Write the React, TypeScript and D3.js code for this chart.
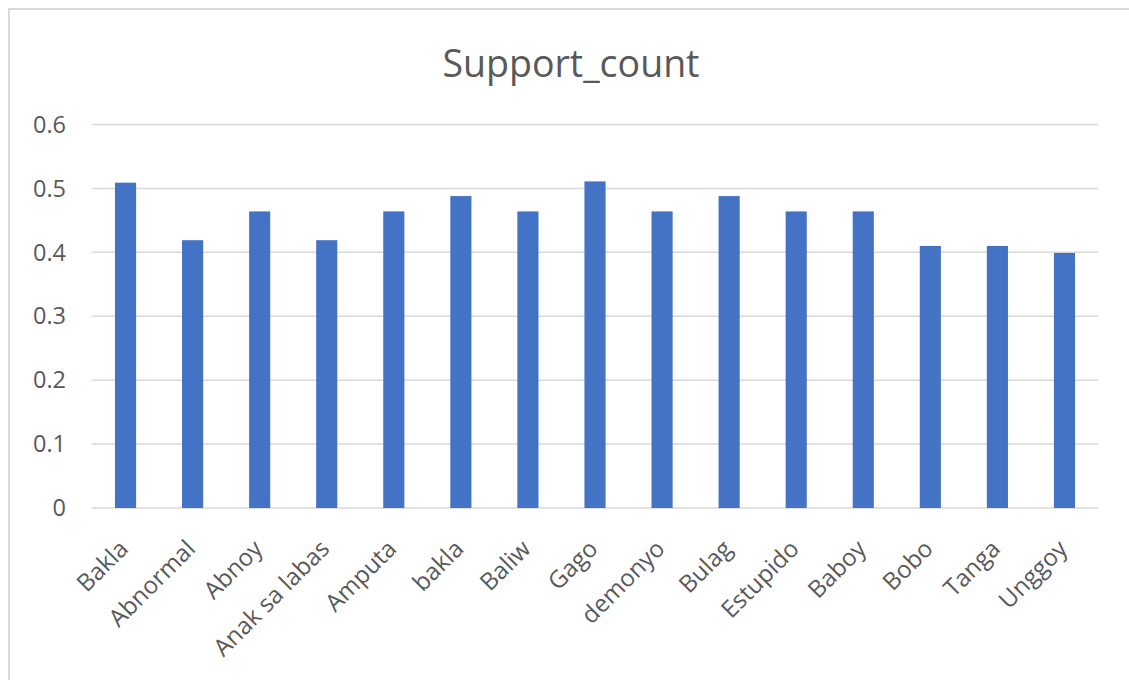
import React, { useEffect, useRef } from 'react';
import * as d3 from 'd3';

const categories = ['Bakla', 'Abnormal', 'Abnoy', 'Anak sa labas', 'Amputa', 'bakla', 'Baliw', 'Gago', 'demonyo', 'Bulag', 'Estupido', 'Baboy', 'Bobo', 'Tanga', 'Unggoy'];
const supportValues = [0.509, 0.419, 0.464, 0.419, 0.464, 0.488, 0.464, 0.511, 0.464, 0.488, 0.464, 0.464, 0.41, 0.41, 0.399];
const yTicks = [0, 0.1, 0.2, 0.3, 0.4, 0.5, 0.6];
const chartTitle = 'Support_count';

const App = () => {
    const svgRef = useRef(null);

    useEffect(() => {
        if (!svgRef.current) return;
        const width = 1129;
        const height = 680;
        const margin = { top: 124.5, right: 31, bottom: 172, left: 92 };
        const innerW = width - margin.left - margin.right;
        const innerH = height - margin.top - margin.bottom;
        const font = "'Open Sans', 'Noto Sans', sans-serif";

        const svg = d3.select(svgRef.current);
        svg.selectAll('*').remove();

        // Chart frame
        svg.append('rect')
            .attr('x', 0).attr('y', 0).attr('width', width).attr('height', height)
            .attr('fill', '#ffffff');
        svg.append('rect')
            .attr('x', 9).attr('y', 9).attr('width', width + 20).attr('height', height + 20)
            .attr('fill', 'none')
            .attr('stroke', '#d9d9d9')
            .attr('stroke-width', 2);

        // Title
        svg.append('text')
            .attr('x', 571)
            .attr('y', 77)
            .attr('text-anchor', 'middle')
            .attr('fill', '#595959')
            .attr('font-family', font)
            .attr('font-size', '37.5px')
            .text(chartTitle);

        const g = svg.append('g').attr('transform', `translate(${margin.left},${margin.top})`);

        const xScale = d3.scaleBand()
            .domain(categories)
            .range([0, innerW])
            .paddingInner(0.685)
            .paddingOuter(0.3425);

        const yScale = d3.scaleLinear()
            .domain([0, 0.6])
            .range([innerH, 0]);

        // Grid
        g.append('g')
            .selectAll('line')
            .data(yTicks)
            .join('line')
            .attr('x1', 0)
            .attr('x2', innerW)
            .attr('y1', d => yScale(d))
            .attr('y2', d => yScale(d))
            .attr('stroke', '#d9d9d9')
            .attr('stroke-width', 1.5);

        // Y labels
        g.append('g')
            .selectAll('text')
            .data(yTicks)
            .join('text')
            .attr('x', -26)
            .attr('y', d => yScale(d))
            .attr('dy', '0.35em')
            .attr('text-anchor', 'end')
            .attr('fill', '#595959')
            .attr('font-family', font)
            .attr('font-size', '23.5px')
            .text(d => d === 0 ? '0' : d.toFixed(1));

        // Bars
        g.append('g')
            .selectAll('rect')
            .data(supportValues)
            .join('rect')
            .attr('x', (d, i) => xScale(categories[i]))
            .attr('y', d => yScale(d))
            .attr('width', xScale.bandwidth())
            .attr('height', d => innerH - yScale(d))
            .attr('fill', '#4472c4');

        // X labels
        g.append('g')
            .selectAll('text')
            .data(categories)
            .join('text')
            .attr('transform', d => `translate(${xScale(d) + xScale.bandwidth() / 2 - 8},${innerH + 30}) rotate(-45)`)
            .attr('dy', '0.72em')
            .attr('text-anchor', 'end')
            .attr('fill', '#595959')
            .attr('font-family', font)
            .attr('font-size', '24px')
            .text(d => d);
    }, []);

    return (
        <svg ref={svgRef} width={1129} height={680} style={{ position: 'absolute', left: 0, top: 0 }}></svg>
    );
};

export default App;
